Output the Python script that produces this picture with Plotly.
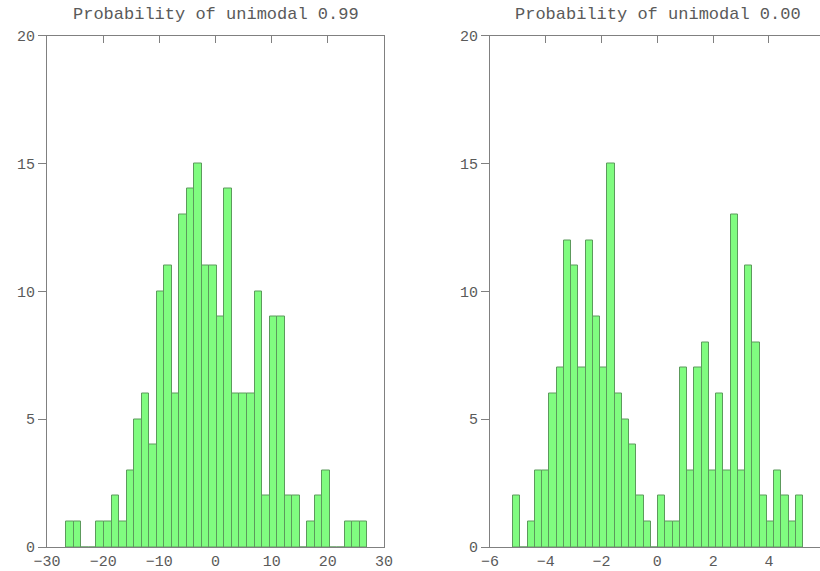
import numpy as np
import plotly.graph_objects as go

# ---- data ----
left_title = "Probability of unimodal 0.99"
right_title = "Probability of unimodal 0.00"

left_counts = [1, 1, 0, 0, 1, 1, 2, 1, 3, 5, 6, 4, 10, 11, 6, 13, 14, 15, 11, 11,
               9, 14, 6, 6, 6, 10, 2, 9, 9, 2, 2, 0, 1, 2, 3, 0, 0, 1, 1, 1]
left_bin_start = -26.55
left_bin_width = 1.34

right_counts = [2, 0, 1, 3, 3, 6, 7, 12, 11, 7, 12, 9, 7, 15, 6, 5, 4, 2, 1, 0,
                2, 1, 1, 7, 3, 7, 8, 3, 6, 3, 13, 3, 11, 8, 2, 1, 3, 2, 1, 2]
right_bin_start = -5.175
right_bin_width = 0.26

left_xticks = [-30, -20, -10, 0, 10, 20, 30]
right_xticks = [-6, -4, -2, 0, 2, 4, 6]
y_ticks = [0, 5, 10, 15, 20]

# ---- styling ----
FONT = "Liberation Mono, Courier New, monospace"
TXT = "#5a5a5a"
AX = "#808080"
FILL = "#80fc80"
EDGE = "#5c9a5c"

W, H = 820, 571
def px_x(p): return p / W
def px_y(p): return (H - p) / H

left_centers = left_bin_start + left_bin_width * (np.arange(len(left_counts)) + 0.5)
right_centers = right_bin_start + right_bin_width * (np.arange(len(right_counts)) + 0.5)

fig = go.Figure()
fig.add_trace(go.Bar(x=left_centers, y=left_counts, width=left_bin_width,
                     marker=dict(color=FILL, line=dict(color=EDGE, width=1)),
                     xaxis="x", yaxis="y", showlegend=False, hoverinfo="x+y"))
fig.add_trace(go.Bar(x=right_centers, y=right_counts, width=right_bin_width,
                     marker=dict(color=FILL, line=dict(color=EDGE, width=1)),
                     xaxis="x2", yaxis="y2", showlegend=False, hoverinfo="x+y"))

y_dom = [px_y(547), px_y(35.5)]
tickfont = dict(family=FONT, size=15, color=TXT)

common_x = dict(ticks="inside", ticklen=7, tickcolor=AX, showline=True, linecolor=AX,
                linewidth=1, mirror="ticks", showgrid=False, zeroline=False,
                tickfont=tickfont, layer="below traces", fixedrange=True,
                automargin=False)
common_y = dict(range=[0, 20], tickvals=y_ticks, ticks="outside", ticklen=8, tickcolor=AX,
                showline=True, linecolor=AX, linewidth=1, showgrid=False, zeroline=False,
                tickfont=tickfont, domain=y_dom, fixedrange=True, automargin=False)
mirror_y = dict(range=[0, 20], tickvals=y_ticks, ticks="inside", tickcolor=AX,
                showticklabels=False, showline=False, showgrid=False, zeroline=False,
                side="right", fixedrange=True, automargin=False)

fig.update_layout(
    width=W, height=H,
    margin=dict(l=0, r=0, t=0, b=0, pad=0, autoexpand=False),
    paper_bgcolor="white", plot_bgcolor="white",
    bargap=0,
    xaxis=dict(domain=[px_x(47), px_x(384)], range=[-30, 30], tickvals=left_xticks,
               anchor="y", **common_x),
    yaxis=dict(anchor="x", mirror=True, **common_y),
    yaxis3=dict(overlaying="y", anchor="x", ticklen=8, **mirror_y),
    xaxis2=dict(domain=[px_x(490), 1.0], range=[-6, 5.83], tickvals=right_xticks,
                anchor="y2", **common_x),
    yaxis2=dict(anchor="x2", mirror=False, **common_y),
    yaxis4=dict(overlaying="y2", anchor="x2", ticklen=3, **mirror_y),
    annotations=[
        dict(text=left_title, x=(px_x(47) + px_x(384)) / 2, y=px_y(14),
             xref="paper", yref="paper", showarrow=False,
             xanchor="center", yanchor="middle",
             font=dict(family=FONT, size=17, color=TXT)),
        dict(text=right_title, x=(px_x(490) + px_x(825)) / 2, y=px_y(14),
             xref="paper", yref="paper", showarrow=False,
             xanchor="center", yanchor="middle",
             font=dict(family=FONT, size=17, color=TXT)),
    ],
)

fig.write_html("out.html")
